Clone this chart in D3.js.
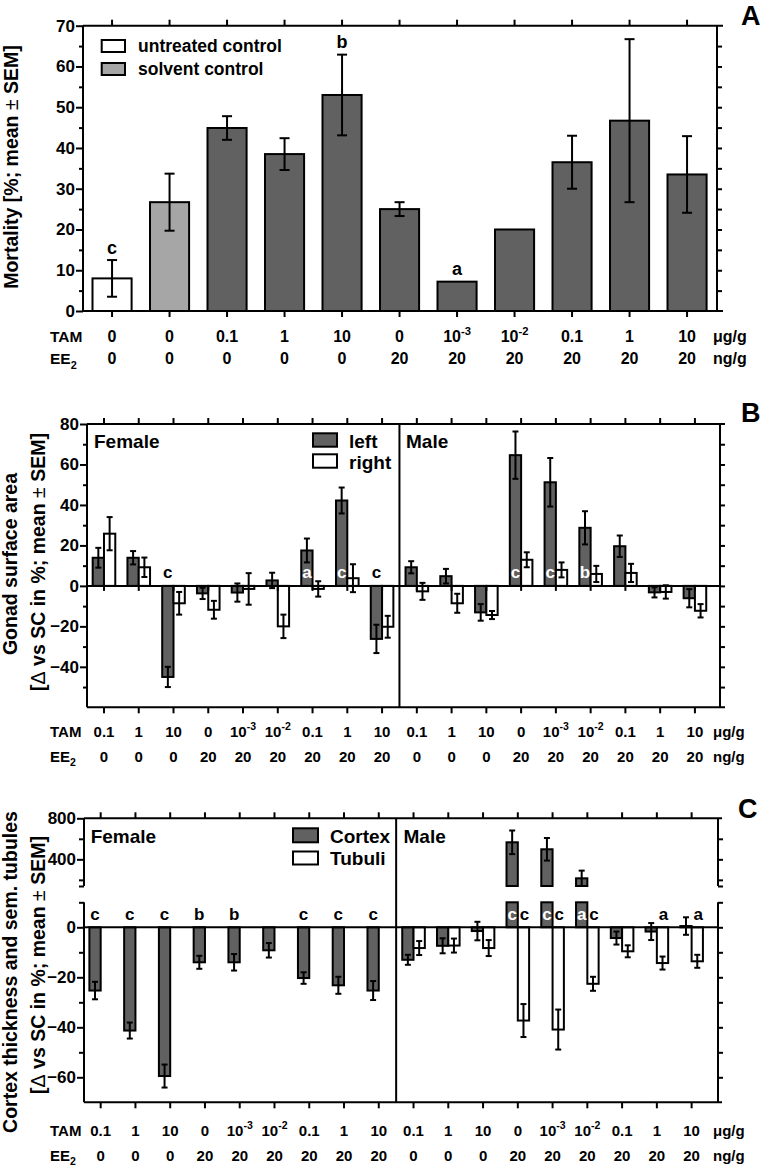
<!DOCTYPE html>
<html><head><meta charset="utf-8">
<script src="https://cdn.jsdelivr.net/npm/d3@7"></script>
<style>
body{margin:0;background:#fff}
text{font-family:"Liberation Sans",Arial,Helvetica,sans-serif;font-weight:bold;fill:#000}
</style>
</head><body><script>
// ---------- Panel A data ----------
const tamA = ["0","0","0.1","1","10","0","10^-3","10^-2","0.1","1","10"];
const ee2A = ["0","0","0","0","0","20","20","20","20","20","20"];
const groupA = ["untreated","solvent","treated","treated","treated","treated","treated","treated","treated","treated","treated"];
const mortality = [8, 26.7, 44.9, 38.5, 53, 25, 7.2, 20, 36.5, 46.7, 33.5];
const mortalitySem = [4.5, 7, 2.9, 3.9, 9.9, 1.7, null, null, 6.5, 20, 9.4];
const lettersA = ["c","","","","b","","a","","","",""];
const ticksA = [0,10,20,30,40,50,60,70];

// ---------- Panel B data ----------
const tamB = ["0.1","1","10","0","10^-3","10^-2","0.1","1","10","0.1","1","10","0","10^-3","10^-2","0.1","1","10"];
const ee2B = ["0","0","0","20","20","20","20","20","20","0","0","0","20","20","20","20","20","20"];
const gonadLeft = [13.9, 13.9, -45, -3.7, -3.3, 2.7, 17.5, 42.2, -26.2, 9.2, 4.8, -13.1, 64.6, 51.2, 28.7, 19.6, -3.2, -6.1];
const gonadLeftSem = [4.9, 3.3, 5, 2.8, 4.5, 3.8, 5.9, 6.4, 7, 3, 3.6, 4.1, 11.7, 12, 8.2, 5.3, 2.5, 4.5];
const gonadRight = [25.8, 9.2, -8.6, -11.8, -1.5, -20, -1.5, 3.8, -20.2, -2.7, -8.6, -14.4, 12.9, 7.9, 5.9, 6.4, -3, -12.3];
const gonadRightSem = [8.2, 4.8, 5.6, 4.4, 7.8, 5.8, 3.8, 6.9, 5.4, 4.2, 4.7, 2, 3.7, 3.7, 4, 4.5, 3.3, 3.3];
const lettersB = ["","","c","","","","a","c","c","","","","c","c","b","","",""];
const ticksB = [-40,-20,0,20,40,60,80];

// ---------- Panel C data ----------
const tamC = tamB;
const ee2C = ee2B;
const cortex = [-25.3, -41.3, -59.5, -14, -14, -9.2, -20.3, -23.2, -25.3, -13, -7.4, -1.5, 566, 498, 215, -4.3, -1.7, 0.5];
const cortexSem = [3.5, 3.2, 4.6, 2.6, 3.3, 2.9, 2.3, 3.4, 3.8, 2, 3, 3.7, 115, 110, 75, 2.6, 3.4, 3.5];
const tubuli = [null,null,null,null,null,null,null,null,null, -8.3, -7.3, -8.3, -37.3, -40.9, -22.6, -9.6, -14.3, -13.6];
const tubuliSem = [null,null,null,null,null,null,null,null,null, 2.8, 2.8, 3.2, 6.6, 8, 2.8, 2.4, 2.6, 2.6];
const lettersCortex = ["c","c","c","b","b","","c","c","c","","","","c","c","a","","",""];
const lettersTubuli = ["","","","","","","","","","","","","c","c","c","","a","a"];
const ticksCLow = [-60,-40,-20,0];
const ticksCUp = [400,800];

// ---------- helpers ----------
const DARK = "#616161", LIGHT = "#a6a6a6";
const svg = d3.select("body").append("svg").attr("width",766).attr("height",1167);

function line(x1,y1,x2,y2,w){
  svg.append("line").attr("x1",x1).attr("y1",y1).attr("x2",x2).attr("y2",y2)
    .attr("stroke","#000").attr("stroke-width",w||2);
}
function styleAxis(g, fs){
  g.select(".domain").remove();
  g.selectAll("line").attr("stroke","#000").attr("stroke-width",2);
  g.selectAll("text").attr("font-size",fs||17).attr("font-weight","bold").attr("fill","#000");
}
function rich(parent, str, x, y, fs, anchor){
  const t = parent.append("text").attr("x",x).attr("y",y).attr("font-size",fs).attr("text-anchor",anchor||"middle");
  let m;
  if ((m = str.match(/^(.*)\^(.*)$/))){
    t.append("tspan").text(m[1]);
    t.append("tspan").attr("dy",-fs*0.42).attr("font-size",fs*0.7).text(m[2]);
  } else if ((m = str.match(/^(.*)_(.*)$/))){
    t.append("tspan").text(m[1]);
    t.append("tspan").attr("dy",fs*0.3).attr("font-size",fs*0.7).text(m[2]);
  } else t.text(str);
  return t;
}
function ylabel(lines, x, yc, fs){
  lines.forEach((ln,k)=>{
    const t = svg.append("text").attr("transform",`translate(${x[k]},${yc[k]}) rotate(-90)`)
      .attr("text-anchor","middle").attr("font-size",fs);
    ln.split(/(±|Δ)/).forEach(part=>{
      if(!part) return;
      const s = t.append("tspan").text(part);
      if(part==="±"||part==="Δ") s.attr("font-weight","normal");
    });
  });
}
function errBar(x, yLo, yHi, cap){
  line(x,yLo,x,yHi,2);
  line(x-cap/2,yLo,x+cap/2,yLo,2);
  line(x-cap/2,yHi,x+cap/2,yHi,2);
}
function table(xs, tam, ee, yT, yE, fs, lblFs){
  rich(svg,"TAM",50,yT,lblFs,"start");
  rich(svg,"EE_2",50,yE,lblFs,"start");
  tam.forEach((s,i)=>rich(svg,s,xs(i),yT,fs));
  ee.forEach((s,i)=>rich(svg,s,xs(i),yE,fs));
  rich(svg,"μg/g",713,yT,fs,"start");
  rich(svg,"ng/g",713,yE,fs,"start");
}

// ================= PANEL A =================
{
  const xA = d3.scaleBand().domain(d3.range(tamA.length)).range([83.3,715.8]);
  const yA = d3.scaleLinear().domain([0,70]).range([311,25.7]);
  const cx = i => xA(i)+xA.bandwidth()/2;
  const bw = xA.bandwidth()*0.68;
  const L=83, R=717, T=yA(70), B=yA(0);
  // ticks
  svg.append("g").attr("transform",`translate(${L},0)`)
    .call(d3.axisLeft(yA).tickValues(ticksA).tickSize(7).tickPadding(1)).call(g=>styleAxis(g,17));
  svg.append("g").attr("transform",`translate(${L},0)`)
    .call(d3.axisLeft(yA).tickValues(d3.range(5,70,10)).tickSize(4).tickFormat("")).call(g=>styleAxis(g));
  svg.append("g").attr("transform",`translate(${R},0)`)
    .call(d3.axisRight(yA).tickValues(d3.range(5,70,5)).tickSize(5).tickFormat("")).call(g=>styleAxis(g));
  svg.append("g").attr("transform",`translate(0,${T})`)
    .call(d3.axisTop(xA).tickSize(6).tickFormat("")).call(g=>styleAxis(g));
  svg.append("g").attr("transform",`translate(0,${B})`)
    .call(d3.axisBottom(xA).tickSize(6).tickFormat("")).call(g=>styleAxis(g));
  // bars
  mortality.forEach((v,i)=>{
    const fill = groupA[i]==="untreated" ? "#fff" : groupA[i]==="solvent" ? LIGHT : DARK;
    svg.append("rect").attr("x",cx(i)-bw/2).attr("y",yA(v)).attr("width",bw).attr("height",yA(0)-yA(v))
      .attr("fill",fill).attr("stroke","#000").attr("stroke-width",2);
  });
  mortality.forEach((v,i)=>{
    const e = mortalitySem[i];
    if(e!=null) errBar(cx(i), yA(v-e), yA(v+e), 10);
  });
  lettersA.forEach((s,i)=>{
    if(!s) return;
    const top = mortalitySem[i]!=null ? mortality[i]+mortalitySem[i] : mortality[i];
    svg.append("text").attr("x",cx(i)).attr("y",yA(top)-6.5).attr("text-anchor","middle").attr("font-size",18).text(s);
  });
  // frame
  line(L,T,723,T); line(L,B,723,B); line(L,T,L,B); line(R,T,R,B);
  // legend
  svg.append("rect").attr("x",101.7).attr("y",40).attr("width",23.3).attr("height",12).attr("fill","#fff").attr("stroke","#000").attr("stroke-width",2);
  svg.append("rect").attr("x",101.7).attr("y",63).attr("width",23.3).attr("height",12).attr("fill",LIGHT).attr("stroke","#000").attr("stroke-width",2);
  svg.append("text").attr("x",138).attr("y",52).attr("font-size",17.5).text("untreated control");
  svg.append("text").attr("x",138).attr("y",75).attr("font-size",17.5).text("solvent control");
  ylabel(["Mortality [%; mean ± SEM]"],[18],[167],19.5);
  table(cx, tamA, ee2A, 341.5, 364, 16, 15.5);
  svg.append("text").attr("x",741).attr("y",25).attr("font-size",27).text("A");
}

// ================= PANEL B =================
{
  const xB = d3.scaleBand().domain(d3.range(tamB.length)).range([86.6,712.3]);
  const yB = d3.scaleLinear().domain([-60,80]).range([707.3,424]);
  const cx = i => xB(i)+xB.bandwidth()/2;
  const bw = 11.3;
  const L=87, R=720, T=yB(80), B=yB(-60);
  svg.append("g").attr("transform",`translate(${L},0)`)
    .call(d3.axisLeft(yB).tickValues(ticksB).tickSize(7).tickPadding(1)).call(g=>styleAxis(g,17));
  svg.append("g").attr("transform",`translate(${L},0)`)
    .call(d3.axisLeft(yB).tickValues(d3.range(-50,80,20)).tickSize(4).tickFormat("")).call(g=>styleAxis(g));
  svg.append("g").attr("transform",`translate(${R},0)`)
    .call(d3.axisRight(yB).tickValues(d3.range(-50,80,10)).tickSize(5).tickFormat("")).call(g=>styleAxis(g));
  svg.append("g").attr("transform",`translate(0,${T})`)
    .call(d3.axisTop(xB).tickSize(6).tickFormat("")).call(g=>styleAxis(g));
  svg.append("g").attr("transform",`translate(0,${B})`)
    .call(d3.axisBottom(xB).tickSize(6).tickFormat("")).call(g=>styleAxis(g));
  const z = yB(0);
  // bars
  gonadLeft.forEach((v,i)=>{
    svg.append("rect").attr("x",cx(i)-bw).attr("y",Math.min(yB(v),z)).attr("width",bw).attr("height",Math.abs(yB(v)-z))
      .attr("fill",DARK).attr("stroke","#000").attr("stroke-width",2);
  });
  gonadRight.forEach((v,i)=>{
    svg.append("rect").attr("x",cx(i)).attr("y",Math.min(yB(v),z)).attr("width",bw).attr("height",Math.abs(yB(v)-z))
      .attr("fill","#fff").attr("stroke","#000").attr("stroke-width",2);
  });
  // zero axis with ticks
  svg.append("g").attr("transform",`translate(0,${z})`)
    .call(d3.axisBottom(xB).tickSize(5).tickFormat("")).call(g=>styleAxis(g));
  line(L,z,R,z);
  gonadLeft.forEach((v,i)=>errBar(cx(i)-bw/2, yB(v-gonadLeftSem[i]), yB(v+gonadLeftSem[i]), 6));
  gonadRight.forEach((v,i)=>errBar(cx(i)+bw/2, yB(v-gonadRightSem[i]), yB(v+gonadRightSem[i]), 6));
  lettersB.forEach((s,i)=>{
    if(!s) return;
    svg.append("text").attr("x",cx(i)-bw/2).attr("y",z-8).attr("text-anchor","middle").attr("font-size",17)
      .style("fill", gonadLeft[i]>0 ? "#fff" : "#000").text(s);
  });
  // frame & divider
  line(L,T,725,T); line(L,B,725,B); line(L,T,L,B); line(R,T,R,B);
  const div = xB(9);
  line(div,T,div,B);
  svg.append("text").attr("x",94).attr("y",447.5).attr("font-size",19).text("Female");
  svg.append("text").attr("x",406).attr("y",447.5).attr("font-size",19).text("Male");
  svg.append("rect").attr("x",313).attr("y",433.3).attr("width",24).attr("height",13.4).attr("fill",DARK).attr("stroke","#000").attr("stroke-width",2);
  svg.append("rect").attr("x",313).attr("y",454.3).attr("width",24).attr("height",13.4).attr("fill","#fff").attr("stroke","#000").attr("stroke-width",2);
  svg.append("text").attr("x",349).attr("y",447.5).attr("font-size",19).text("left");
  svg.append("text").attr("x",349).attr("y",468.5).attr("font-size",19).text("right");
  ylabel(["Gonad surface area","[Δ vs SC in %; mean ± SEM]"],[17,45],[564,562],19.5);
  table(cx, tamB, ee2B, 736.5, 761.5, 15, 15);
  svg.append("text").attr("x",741).attr("y",422).attr("font-size",27).text("B");
}

// ================= PANEL C =================
{
  const xC = d3.scaleBand().domain(d3.range(tamC.length)).range([83.3,709]);
  const yLow = d3.scaleLinear().domain([-70,10]).range([1102.3,902.3]);
  const yUp = d3.scaleLinear().domain([140,800]).range([886,818.3]);
  const yC = v => v<=10 ? yLow(v) : yUp(v);
  const cx = i => xC(i)+xC.bandwidth()/2;
  const bw = 11.3;
  const L=84, R=718, T=yUp(800), B=yLow(-70), brkU=yUp(140), brkL=yLow(10);
  // left ticks
  svg.append("g").attr("transform",`translate(${L},0)`)
    .call(d3.axisLeft(yLow).tickValues(ticksCLow).tickSize(7).tickPadding(1)).call(g=>styleAxis(g,17));
  svg.append("g").attr("transform",`translate(${L},0)`)
    .call(d3.axisLeft(yUp).tickValues(ticksCUp).tickSize(7).tickPadding(1)).call(g=>styleAxis(g,17));
  svg.append("g").attr("transform",`translate(${L},0)`)
    .call(d3.axisLeft(yLow).tickValues([-50,-30,-10,10]).tickSize(5).tickFormat("")).call(g=>styleAxis(g));
  svg.append("g").attr("transform",`translate(${L},0)`)
    .call(d3.axisLeft(yUp).tickValues([140,200,600]).tickSize(5).tickFormat("")).call(g=>styleAxis(g));
  // right ticks
  svg.append("g").attr("transform",`translate(${R},0)`)
    .call(d3.axisRight(yLow).tickValues(d3.range(-60,11,10)).tickSize(5).tickFormat("")).call(g=>styleAxis(g));
  svg.append("g").attr("transform",`translate(${R},0)`)
    .call(d3.axisRight(yUp).tickValues([140,200,400,600]).tickSize(5).tickFormat("")).call(g=>styleAxis(g));
  svg.append("g").attr("transform",`translate(0,${T})`)
    .call(d3.axisTop(xC).tickSize(6).tickFormat("")).call(g=>styleAxis(g));
  svg.append("g").attr("transform",`translate(0,${B})`)
    .call(d3.axisBottom(xC).tickSize(6).tickFormat("")).call(g=>styleAxis(g));
  const z = yLow(0);
  cortex.forEach((v,i)=>{
    const x = cx(i)-bw;
    if(v<=10){
      svg.append("rect").attr("x",x).attr("y",Math.min(yLow(v),z)).attr("width",bw).attr("height",Math.abs(yLow(v)-z))
        .attr("fill",DARK).attr("stroke","#000").attr("stroke-width",2);
    } else {
      svg.append("rect").attr("x",x).attr("y",brkL).attr("width",bw).attr("height",z-brkL)
        .attr("fill",DARK).attr("stroke","#000").attr("stroke-width",2);
      svg.append("rect").attr("x",x).attr("y",yUp(v)).attr("width",bw).attr("height",brkU-yUp(v))
        .attr("fill",DARK).attr("stroke","#000").attr("stroke-width",2);
    }
  });
  tubuli.forEach((v,i)=>{
    if(v==null) return;
    svg.append("rect").attr("x",cx(i)).attr("y",Math.min(yLow(v),z)).attr("width",bw).attr("height",Math.abs(yLow(v)-z))
      .attr("fill","#fff").attr("stroke","#000").attr("stroke-width",2);
  });
  line(L,z,R,z);
  cortex.forEach((v,i)=>errBar(cx(i)-bw/2, yC(v-cortexSem[i]), yC(v+cortexSem[i]), 6));
  tubuli.forEach((v,i)=>{ if(v!=null) errBar(cx(i)+bw/2, yLow(v-tubuliSem[i]), yLow(v+tubuliSem[i]), 6); });
  lettersCortex.forEach((s,i)=>{
    if(!s) return;
    svg.append("text").attr("x",cx(i)-bw/2).attr("y",z-7).attr("text-anchor","middle").attr("font-size",17)
      .style("fill", cortex[i]>0 ? "#fff" : "#000").text(s);
  });
  lettersTubuli.forEach((s,i)=>{
    if(!s) return;
    svg.append("text").attr("x",cx(i)+bw/2+1).attr("y",z-7).attr("text-anchor","middle").attr("font-size",17).text(s);
  });
  // frame with break
  line(L,T,722,T); line(L,B,722,B);
  line(L,T,L,brkU); line(L,brkL,L,B);
  line(R,T,R,brkU); line(R,brkL,R,B);
  const div = xC(9);
  line(div,T,div,B);
  svg.append("text").attr("x",90.7).attr("y",842.5).attr("font-size",19).text("Female");
  svg.append("text").attr("x",403.5).attr("y",842.5).attr("font-size",19).text("Male");
  svg.append("rect").attr("x",293).attr("y",828.3).attr("width",25).attr("height",14).attr("fill",DARK).attr("stroke","#000").attr("stroke-width",2);
  svg.append("rect").attr("x",293).attr("y",851.5).attr("width",25).attr("height",13).attr("fill","#fff").attr("stroke","#000").attr("stroke-width",2);
  svg.append("text").attr("x",330).attr("y",842.5).attr("font-size",19).text("Cortex");
  svg.append("text").attr("x",330).attr("y",865).attr("font-size",19).text("Tubuli");
  ylabel(["Cortex thickness and sem. tubules","[Δ vs SC in %; mean ± SEM]"],[17,45],[972,965],19.5);
  table(cx, tamC, ee2C, 1135.5, 1160.5, 15, 15);
  svg.append("text").attr("x",738).attr("y",818).attr("font-size",27).text("C");
}
</script></body></html>
